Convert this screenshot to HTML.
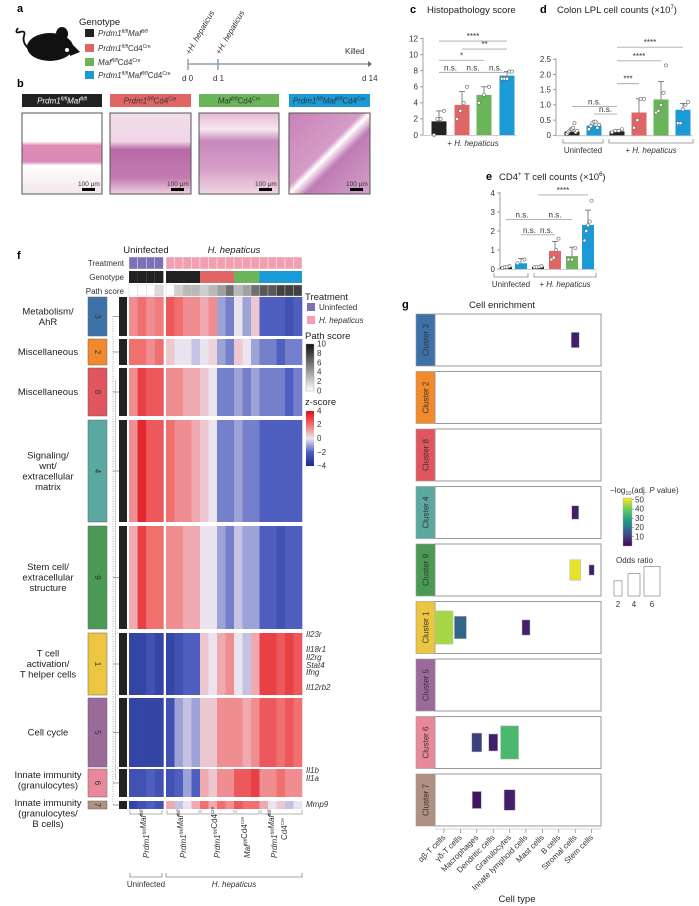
<!DOCTYPE html>
<html><head><meta charset="utf-8">
<style>
body{margin:0;background:#fff}
svg{display:block;font-family:"Liberation Sans",sans-serif}
.t{font-size:8px;fill:#333}
.ttl{font-size:9.5px;fill:#222}
.lab{font-size:11px;font-weight:bold;fill:#000}
.it{font-style:italic}
</style></head>
<body>
<svg id="fig" width="699" height="906" viewBox="0 0 699 906" xmlns="http://www.w3.org/2000/svg">
<defs>
 <linearGradient id="gz" x1="0" y1="0" x2="0" y2="1">
  <stop offset="0" stop-color="#e0101a"/><stop offset="0.25" stop-color="#f07070"/><stop offset="0.5" stop-color="#ebe4ee"/><stop offset="0.75" stop-color="#4e5fc0"/><stop offset="1" stop-color="#1a2a8a"/>
 </linearGradient>
 <linearGradient id="gp" x1="0" y1="0" x2="0" y2="1"><stop offset="0" stop-color="#111"/><stop offset="1" stop-color="#fff"/></linearGradient>
 <linearGradient id="gv" x1="0" y1="1" x2="0" y2="0">
  <stop offset="0" stop-color="#440154"/><stop offset="0.25" stop-color="#3b528b"/><stop offset="0.5" stop-color="#21918c"/><stop offset="0.75" stop-color="#5ec962"/><stop offset="1" stop-color="#fde725"/>
 </linearGradient>
 <linearGradient id="h1" x1="0" y1="0" x2="0" y2="1"><stop offset="0" stop-color="#fff"/><stop offset="0.35" stop-color="#fff"/><stop offset="0.4" stop-color="#e08cb4"/><stop offset="0.6" stop-color="#d88ab8"/><stop offset="0.65" stop-color="#fff"/><stop offset="1" stop-color="#f4e6ee"/></linearGradient>
 <linearGradient id="h2" x1="0" y1="0" x2="0" y2="1"><stop offset="0" stop-color="#f2dde8"/><stop offset="0.35" stop-color="#efd6e4"/><stop offset="0.45" stop-color="#b86aa6"/><stop offset="0.8" stop-color="#c27cb0"/><stop offset="1" stop-color="#f0d0e0"/></linearGradient>
 <linearGradient id="h3" x1="0" y1="0" x2="0" y2="1"><stop offset="0" stop-color="#e8b8d4"/><stop offset="0.2" stop-color="#f6e8f0"/><stop offset="0.35" stop-color="#c888bc"/><stop offset="0.7" stop-color="#d8a0c8"/><stop offset="1" stop-color="#f0d6e4"/></linearGradient>
 <linearGradient id="h4" x1="0" y1="0" x2="1" y2="1"><stop offset="0" stop-color="#c882b8"/><stop offset="0.45" stop-color="#d69cc6"/><stop offset="0.5" stop-color="#fff"/><stop offset="0.6" stop-color="#c07cb4"/><stop offset="1" stop-color="#d4a0c8"/></linearGradient>
</defs>

<!-- panel a -->
<text class="lab" x="17" y="12">a</text>
<g>
 <ellipse cx="50" cy="47" rx="23" ry="14" fill="#111"/>
 <ellipse cx="62" cy="34" rx="6" ry="7" fill="#111"/>
 <path d="M68 40 L80 52 L70 56 Z" fill="#111"/>
 <circle cx="67" cy="50" r="2" fill="#fff"/>
 <path d="M28 48 Q22 42 24 36 Q26 30 20 32 Q14 34 18 28" stroke="#111" stroke-width="1.8" fill="none"/>
</g>
<text class="ttl" x="79" y="25">Genotype</text>
<g>
 <rect x="85" y="29" width="9" height="8" fill="#222"/><text class="t it" x="98" y="36">Prdm1<tspan font-size="5" dy="-3">fl/fl</tspan><tspan dy="3">Maf</tspan><tspan font-size="5" dy="-3">fl/fl</tspan></text>
 <rect x="85" y="44" width="9" height="8" fill="#e06666"/><text class="t it" x="98" y="51">Prdm1<tspan font-size="5" dy="-3">fl/fl</tspan><tspan dy="3" font-style="normal">Cd4</tspan><tspan font-size="5" dy="-3" font-style="normal">Cre</tspan></text>
 <rect x="85" y="58" width="9" height="8" fill="#6ab45a"/><text class="t it" x="98" y="65">Maf<tspan font-size="5" dy="-3">fl/fl</tspan><tspan dy="3" font-style="normal">Cd4</tspan><tspan font-size="5" dy="-3" font-style="normal">Cre</tspan></text>
 <rect x="85" y="71" width="9" height="8" fill="#1a9ad6"/><text class="t it" x="98" y="78">Prdm1<tspan font-size="5" dy="-3">fl/fl</tspan><tspan dy="3">Maf</tspan><tspan font-size="5" dy="-3">fl/fl</tspan><tspan dy="3" font-style="normal">Cd4</tspan><tspan font-size="5" dy="-3" font-style="normal">Cre</tspan></text>
</g>
<g>
 <line x1="188" y1="64" x2="368" y2="64" stroke="#5a6f8a" stroke-width="1"/>
 <path d="M368 61 L372 64 L368 67" fill="#5a6f8a"/>
 <line x1="188" y1="59" x2="188" y2="70" stroke="#8aa0b8" stroke-width="1.5"/>
 <line x1="218" y1="59" x2="218" y2="70" stroke="#8aa0b8" stroke-width="1.5"/>
 <text class="t" x="182" y="81">d 0</text><text class="t" x="213" y="81">d 1</text><text class="t" x="362" y="81">d 14</text>
 <text class="t" x="345" y="54">Killed</text>
 <text class="t" transform="translate(190,55) rotate(-60)">+<tspan class="it">H. hepaticus</tspan></text>
 <text class="t" transform="translate(220,55) rotate(-60)">+<tspan class="it">H. hepaticus</tspan></text>
</g>

<!-- panel b -->
<text class="lab" x="17" y="87">b</text>
<g>
 <rect x="22" y="94" width="80" height="13" fill="#222"/><text class="t it" x="62" y="103.5" text-anchor="middle" style="fill:#fff">Prdm1<tspan font-size="5" dy="-3">fl/fl</tspan><tspan dy="3">Maf</tspan><tspan font-size="5" dy="-3">fl/fl</tspan></text>
 <rect x="110" y="94" width="81" height="13" fill="#e06666"/><text class="t it" x="150" y="103.5" text-anchor="middle">Prdm1<tspan font-size="5" dy="-3">fl/fl</tspan><tspan dy="3" font-style="normal">Cd4</tspan><tspan font-size="5" dy="-3" font-style="normal">Cre</tspan></text>
 <rect x="199" y="94" width="80" height="13" fill="#6ab45a"/><text class="t it" x="239" y="103.5" text-anchor="middle">Maf<tspan font-size="5" dy="-3">fl/fl</tspan><tspan dy="3" font-style="normal">Cd4</tspan><tspan font-size="5" dy="-3" font-style="normal">Cre</tspan></text>
 <rect x="289" y="94" width="81" height="13" fill="#1a9ad6"/><text class="t it" x="329" y="103.5" text-anchor="middle">Prdm1<tspan font-size="5" dy="-3">fl/fl</tspan><tspan dy="3">Maf</tspan><tspan font-size="5" dy="-3">fl/fl</tspan><tspan dy="3" font-style="normal">Cd4</tspan><tspan font-size="5" dy="-3" font-style="normal">Cre</tspan></text>
 <rect x="22" y="113" width="80" height="81" fill="url(#h1)" stroke="#555"/>
 <rect x="110" y="113" width="81" height="81" fill="url(#h2)" stroke="#555"/>
 <rect x="199" y="113" width="80" height="81" fill="url(#h3)" stroke="#555"/>
 <rect x="289" y="113" width="81" height="81" fill="url(#h4)" stroke="#555"/>
 <g class="t" font-size="6.5">
 <text x="78" y="186" font-size="6.5">100 µm</text><rect x="82" y="188" width="13" height="3" fill="#000"/>
 <text x="167" y="186" font-size="6.5">100 µm</text><rect x="171" y="188" width="13" height="3" fill="#000"/>
 <text x="255" y="186" font-size="6.5">100 µm</text><rect x="259" y="188" width="13" height="3" fill="#000"/>
 <text x="346" y="186" font-size="6.5">100 µm</text><rect x="350" y="188" width="13" height="3" fill="#000"/>
 </g>
</g>

<!-- titles c d e -->
<text class="lab" x="410" y="13">c</text>
<text class="ttl" x="427" y="13">Histopathology score</text>
<text class="lab" x="540" y="13">d</text>
<text class="ttl" x="557" y="13">Colon LPL cell  counts (×10<tspan font-size="6" dy="-4">7</tspan><tspan dy="4">)</tspan></text>
<text class="lab" x="486" y="180">e</text>
<text class="ttl" x="499" y="180">CD4<tspan font-size="6" dy="-4">+</tspan><tspan dy="4"> T cell counts (×10</tspan><tspan font-size="6" dy="-4">6</tspan><tspan dy="4">)</tspan></text>
<g id="barC"></g>
<g id="barD"></g>
<g id="barE"></g>

<!-- panel f -->
<text class="lab" x="17" y="259">f</text>
<text class="ttl" x="146" y="253" text-anchor="middle">Uninfected</text>
<text class="ttl it" x="234" y="253" text-anchor="middle">H. hepaticus</text>
<g id="heat"></g>

<!-- panel g -->
<text class="lab" x="402" y="308">g</text>
<text class="ttl" x="469" y="308">Cell enrichment</text>
<g id="enrich"></g>
</svg>

<script>
// ---------- panel c data ----------
const cValues = [1.7, 3.75, 5.0, 7.4];
const cErr = [3.0, 5.4, 6.0, 7.9];
const cDots = [[0,2,2,3],[2,3,4,6],[4,5,6],[7,7,7,7.9,7.9]];
const cTicks = [0,2,4,6,8,10,12];
const cSig = [["****",0,3,11.7],["**",1,3,10.7],["*",0,2,9.3],["n.s.",0,1,7.8],["n.s.",1,2,7.8],["n.s.",2,3,7.8]];
// ---------- panel d data ----------
const dValues = [0.12, 0.32, 0.13, 0.75, 1.18, 0.84];
const dErr = [0.2, 0.4, 0.18, 1.2, 1.77, 1.05];
const dDots = [[0.05,0.1,0.15,0.2,0.2,0.25,0.4,0.1,0.15],[0.2,0.3,0.4,0.45,0.45,0.25,0.35],[0.1,0.15,0.15,0.2],[0.25,0.5,1.2,1.2],[0.75,0.8,1.0,1.4,2.3],[0.4,0.4,0.85,1.0,1.1]];
const dTicks = [0,0.5,1.0,1.5,2.0,2.5];
const dTickLabels = ["0","0.5","1.0","1.5","2.0","2.5"];
const dSig = [["****",2,5,2.9],["****",2,4,2.45],["***",2,3,1.7],["n.s.",0,2,0.95],["n.s.",1,2,0.7]];
// ---------- panel e data ----------
const eValues = [0.1, 0.3, 0.12, 0.95, 0.68, 2.32];
const eErr = [0.15, 0.55, 0.15, 1.45, 1.15, 3.1];
const eDots = [[0.05,0.1,0.1,0.15],[0.3,0.5],[0.1,0.1,0.12,0.15],[0.5,0.6,1.0,1.6],[0.5,0.5,1.1],[1.5,2.0,2.3,2.5,3.6]];
const eTicks = [0,1,2,3,4];
const eSig = [["****",2,5,3.9],["n.s.",0,2,2.6],["n.s.",2,4,2.6],["n.s.",1,2,1.8],["n.s.",2,3,1.8]];
const barColors6 = ["#222","#1a9ad6","#222","#e06666","#6ab45a","#1a9ad6"];
const barColors4 = ["#222","#e06666","#6ab45a","#1a9ad6"];

// ---------- heatmap data ----------
const clusterIds = ["3","2","8","4","9","1","5","6","7"];
const clusterNames = [["Metabolism/","AhR"],["Miscellaneous"],["Miscellaneous"],["Signaling/","wnt/","extracellular","matrix"],["Stem cell/","extracellular","structure"],["T cell","activation/","T helper cells"],["Cell cycle"],["Innate immunity","(granulocytes)"],["Innate immunity","(granulocytes/","B cells)"]];
const clusterColors = ["#3d72a8","#f08a2c","#e05560","#5aa8a0","#4a9a55","#ecc640","#9a6a9a","#e8889a","#b09080"];
const zMeans = [
 [1.5,2,1.5,1.8, 2.5,2,1.5,1.5, 1,1.5,-1,-1.5, 0,-1,0.5, -2,-2,-2,-2.5,-2],
 [2,2,1.5,2, 0.5,0,0,-0.5, 0,0.3,-1,-1.5, 0.5,0,-1, -1.5,-1.5,-2,-1.5,-1.5],
 [1.5,3,2.5,2.5, 1.5,1.5,1,1, 0.5,0,-1.5,-1.5, -1,-1.5,-1, -1.5,-1.5,-1.5,-2,-1.5],
 [1.5,3.5,2.5,2.5, 2,1.5,1.5,1, 0.5,0,-1.5,-1.5, -1,-1.5,-1.5, -2,-2,-2,-2,-2],
 [1,3,2,2, 1.5,1.5,1,1, 0,0,-1,-1.5, -0.5,-1,-1, -2,-2,-2.5,-2,-2],
 [-3,-3,-2.5,-3, -3,-2.5,-2,-2, 0.5,0,1,1.5, 0,-0.5,1, 3,3,2.5,3,2.5],
 [-3,-3,-3,-3, -2.5,-1,-0.5,-1, 0.5,0.5,1.5,1.5, 1.5,1,1.5, 2.5,2.5,2,2.5,2],
 [-2.5,-2.5,-2,-2.5, -2.5,-2,-1,-2, 1,0.5,1.5,1.5, 2.5,2.5,3, 1.5,1.5,2,1.5,1.5],
 [-3,-2.5,-2,-2.5, 1,-0.5,0,1, 2,1,2,1.5, 2.5,2,2, 1,0,0.5,-0.5,0]
];
const treatment = ["U","U","U","U","H","H","H","H","H","H","H","H","H","H","H","H","H","H","H","H"];
const genotype = ["B","B","B","B","B","B","B","B","R","R","R","R","G","G","G","L","L","L","L","L"];
const pathScore = [0,0,0,1.5, 0,2,3,3, 2,3,4,6, 3,4,6, 7,7,8,8,8];
const geneLabels = ["Il23r","Il18r1","Il2rg","Stat4","Ifng","Il12rb2","Il1b","Il1a","Mmp9"];

// ---------- enrichment data ----------
const cellTypes = ["αβ-T cells","γδ-T cells","Macrophages","Dendritic cells","Granulocytes","Innate lymphoid cells","Mast cells","B cells","Stromal cells","Stem cells"];
const enrichClusters = ["3","2","8","4","9","1","5","6","7"];
const enrichCluster = ["3","4","9","9","1","1","1","6","6","6","7","7"];
const enrichCell = [8,8,8,9,0,1,5,2,3,4,2,4];
const enrichOdds = [2,1.5,3.5,0.6,7,4,2,3,2.5,7,2.5,3.5];
const enrichLogP = [5,5,50,5,45,17,5,10,5,35,3,5];

// ---------- helpers ----------
const NS="http://www.w3.org/2000/svg";
function mk(parent, tag, attrs, text){
 const e=document.createElementNS(NS,tag);
 for(const k in attrs) e.setAttribute(k,attrs[k]);
 if(text!==undefined) e.textContent=text;
 parent.appendChild(e); return e;
}
function lerpHex(a,b,t){
 const pa=[1,3,5].map(i=>parseInt(a.substr(i,2),16)), pb=[1,3,5].map(i=>parseInt(b.substr(i,2),16));
 return "rgb("+pa.map((v,i)=>Math.round(v+(pb[i]-v)*t)).join(",")+")";
}
function ramp(stops, t){
 t=Math.max(0,Math.min(1,t));
 const n=stops.length-1, i=Math.min(n-1,Math.floor(t*n));
 return lerpHex(stops[i],stops[i+1],t*n-i);
}
const zStops=["#1a2a8a","#4e5fc0","#ebe4ee","#f07070","#e0101a"];
const vStops=["#440154","#3b528b","#21918c","#5ec962","#fde725"];
function zColor(z){return ramp(zStops,(z+4)/8);}

// ---------- bar charts ----------
function barChart(g, cfg){
 const y=v=>cfg.y0-(v-cfg.vmin)*cfg.ppu;
 const x=i=>cfg.xs[i];
 let e=mk(g,"line",{x1:cfg.axisX,x2:cfg.axisX,y1:y(cfg.ticks[cfg.ticks.length-1])-1,y2:y(0),stroke:"#888","stroke-width":0.8});
 
 
 cfg.ticks.forEach((t,i)=>{
  mk(g,"line",{x1:cfg.axisX-3,x2:cfg.axisX,y1:y(t),y2:y(t),stroke:"#888","stroke-width":0.8});
  const tl=mk(g,"text",{x:cfg.axisX-5,y:y(t)+2.8,"text-anchor":"end",class:"t"},cfg.tickLabels?cfg.tickLabels[i]:String(t));
  
  
 });
 cfg.values.forEach((v,i)=>{
  const cx=x(i), top=y(cfg.err[i]);
  mk(g,"line",{x1:cx,x2:cx,y1:top,y2:y(v),stroke:"#666","stroke-width":0.8});
  mk(g,"line",{x1:cx-3,x2:cx+3,y1:top,y2:top,stroke:"#666","stroke-width":0.8});
  const b=mk(g,"rect",{x:cx-cfg.bw/2,y:y(v),width:cfg.bw,height:y(0)-y(v),fill:cfg.colors[i]});
  
  
  cfg.dots[i].forEach((d,j)=>{
   const n=cfg.dots[i].length, off=n>1?(j/(n-1)-0.5)*(cfg.bw-5):0;
   const c=mk(g,"circle",{cx:cx+off,cy:y(d),r:1.6,fill:"#fff",stroke:"#666","stroke-width":0.6});
   
   
  });
 });
 cfg.sig.forEach(s=>{
  const yy=y(s[3]);
  mk(g,"line",{x1:x(s[1]),x2:x(s[2]),y1:yy,y2:yy,stroke:"#aaa","stroke-width":0.9});
  const st=mk(g,"text",{x:(x(s[1])+x(s[2]))/2,y:yy-2,"text-anchor":"middle",class:"t","font-size":s[0]=="n.s."?7:8},s[0]);
  
  
 });
 mk(g,"line",{x1:cfg.axisX,x2:x(cfg.values.length-1)+cfg.bw/2+2,y1:y(0)+0.5,y2:y(0)+0.5,stroke:"#999","stroke-width":0.6});
}
function groupBrackets(g, yb, groups){
 groups.forEach(gr=>{
  mk(g,"path",{d:`M${gr[0]} ${yb-4} V${yb} H${gr[1]} V${yb-4}`,stroke:"#888",fill:"none","stroke-width":0.8});
  const t=mk(g,"text",{x:(gr[0]+gr[1])/2,y:yb+10,"text-anchor":"middle",class:"t"+(gr[3]?" it":"")},gr[2]);
  
  
 });
}
const gC=document.getElementById("barC");
barChart(gC,{y0:135,vmin:0,ppu:8.03,axisX:423,xs:[439,462,484,507],bw:15,values:cValues,err:cErr,dots:cDots,ticks:cTicks,sig:cSig,colors:barColors4});
let hh=mk(gC,"text",{x:473,y:146,"text-anchor":"middle",class:"t"},"+ ");
mk(hh,"tspan",{class:"it"},"H. hepaticus");
const gD=document.getElementById("barD");
barChart(gD,{y0:135.3,vmin:0,ppu:30.4,axisX:556,xs:[572,594,617,639,661,683],bw:15,values:dValues,err:dErr,dots:dDots,ticks:dTicks,tickLabels:dTickLabels,sig:dSig,colors:barColors6});
groupBrackets(gD,143,[[563,603,"Uninfected"],[609,693,"+ H. hepaticus",1]]);
const gE=document.getElementById("barE");
barChart(gE,{y0:269,vmin:0,ppu:19,axisX:500,xs:[506,521,538,555,572,588],bw:12,values:eValues,err:eErr,dots:eDots,ticks:eTicks,sig:eSig,colors:barColors6});
groupBrackets(gE,277,[[494,528,"Uninfected"],[534,596,"+ H. hepaticus",1]]);

// ---------- heatmap ----------
const H=document.getElementById("heat");
const colX=i=> i<4 ? 129+i*8.6 : 166+(i-4)*8.5;
const colW=i=> i<4 ? 8.6 : 8.5;
const clusterY=[[297,336],[339,365],[368,416],[420,522],[526,629],[633,695],[698,767],[769,797],[801,809]];
const genoColor={B:"#222",R:"#e06666",G:"#6ab45a",L:"#1a9ad6"};
[["Treatment",257],["Genotype",271],["Path score",285]].forEach(r=>{
 const t=mk(H,"text",{x:124,y:r[1]+9,"text-anchor":"end",class:"t"},r[0]);
 
 
});
treatment.forEach((tr,i)=>{
 mk(H,"rect",{x:colX(i),y:257,width:colW(i),height:12,fill:tr=="U"?"#7b72b8":"#f0a0b0",stroke:"#fff","stroke-width":0.4});
 mk(H,"rect",{x:colX(i),y:271,width:colW(i),height:12,fill:genoColor[genotype[i]]});
 mk(H,"rect",{x:colX(i),y:285,width:colW(i),height:11,fill:ramp(["#ffffff","#111111"],pathScore[i]/10),stroke:"#ccc","stroke-width":0.4});
});
clusterIds.forEach((cid,k)=>{
 const [y1,y2]=clusterY[k];
 zMeans[k].forEach((z,i)=>{
  const c=mk(H,"rect",{x:colX(i),y:y1,width:colW(i)+0.3,height:y2-y1,fill:zColor(z)});
  
  
 });
 const b=mk(H,"rect",{x:88,y:y1,width:19,height:y2-y1,fill:clusterColors[k],stroke:"#666","stroke-width":0.5});
 
 
 mk(H,"text",{class:"t",transform:`translate(${95},${(y1+y2)/2}) rotate(90)`,"text-anchor":"middle","font-size":(y2-y1)>10?8:7},cid);
 mk(H,"rect",{x:119,y:y1,width:8,height:y2-y1,fill:"#222"});
 mk(H,"line",{x1:113,x2:119,y1:(y1+y2)/2,y2:(y1+y2)/2,stroke:"#666","stroke-width":0.6});
 const names=clusterNames[k], lh=10.5;
 let cy=(y1+y2)/2-(names.length-1)*lh/2+3;
 if(k==8) cy=806;
 if(k==7) cy=778;
 const nt=mk(H,"text",{class:"ttl","text-anchor":"middle","font-size":9},"");
 
 
 names.forEach((n,j)=>mk(nt,"tspan",{x:48,y:cy+j*lh},n));
});
mk(H,"line",{x1:113,x2:113,y1:316,y2:805,stroke:"#777","stroke-width":0.6,"stroke-dasharray":"1,1.5"});
mk(H,"line",{x1:115.5,x2:115.5,y1:380,y2:780,stroke:"#999","stroke-width":0.5});
const geneY=[637,652,660,668,675,690,773,781,807];
geneLabels.forEach((gname,i)=>{
 const t=mk(H,"text",{x:306,y:geneY[i],class:"t it"},gname);
 
 
});
mk(H,"text",{x:305,y:300,class:"ttl"},"Treatment");
mk(H,"rect",{x:307,y:303,width:8,height:8,fill:"#7b72b8"});
mk(H,"text",{x:319,y:310,class:"t"},"Uninfected");
mk(H,"rect",{x:307,y:316,width:8,height:8,fill:"#f0a0b0"});
mk(H,"text",{x:319,y:323,class:"t it"},"H. hepaticus");
mk(H,"text",{x:305,y:339,class:"ttl"},"Path score");
mk(H,"rect",{x:306,y:344,width:8,height:47,fill:"url(#gp)",stroke:"#999","stroke-width":0.4});
[10,8,6,4,2,0].forEach(v=>{const yy=391-v*4.7;mk(H,"text",{x:317,y:yy+2.5,class:"t","font-size":7},String(v));});
mk(H,"text",{x:305,y:405,class:"ttl"},"z-score");
mk(H,"rect",{x:306,y:411,width:8,height:55,fill:"url(#gz)"});
[4,2,0,-2,-4].forEach(v=>{const yy=438.5-v*6.9;mk(H,"text",{x:317,y:yy+2.5,class:"t","font-size":7},v<0?"−"+(-v):String(v));});
const gGroups=[[130,162,146,["Prdm1|fl/fl|Maf|fl/fl"]],[167,199,183,["Prdm1|fl/fl|Maf|fl/fl"]],[201,234,217,["Prdm1|fl/fl|Cd4|Cre"]],[236,259,247,["Maf|fl/fl|Cd4|Cre"]],[261,302,281,["Prdm1|fl/fl|Maf|fl/fl","Cd4|Cre"]]];
gGroups.forEach(gr=>{
 mk(H,"path",{d:`M${gr[0]} 810 V814 H${gr[1]} V810`,stroke:"#999",fill:"none","stroke-width":0.7});
 gr[3].forEach((line,li)=>{
  const parts=line.split("|");
  const xx=gr[2]+(gr[3].length>1?(li==0?-4:6):3);
  const t=mk(H,"text",{class:"t it",transform:`translate(${xx},${parts.length>2?858:840}) rotate(-90)`,"font-size":7.5},"");
  
  
  for(let p=0;p<parts.length;p+=2){
   mk(t,"tspan",{"font-style":parts[p]=="Cd4"?"normal":"italic"},parts[p]);
   mk(t,"tspan",{"font-size":4.5,dy:-3,"font-style":"italic"},parts[p+1]);
   mk(t,"tspan",{dy:3},"");
  }
 });
});
groupBrackets(H,877,[[130,162,"Uninfected"],[166,302,"H. hepaticus",1]]);

// ---------- enrichment ----------
const E=document.getElementById("enrich");
const catX=i=>444+i*16.4;
const boxY=k=>314+k*57.5;
const oddW=o=>4+2*o, oddH=o=>8+3.6*o;
enrichClusters.forEach((cid,k)=>{
 const y0=boxY(k);
 const bx=mk(E,"rect",{x:435,y:y0,width:166,height:52,fill:"#fff",stroke:"#999","stroke-width":1});
 
 
 mk(E,"rect",{x:416,y:y0,width:19,height:52,fill:clusterColors[clusterIds.indexOf(cid)],stroke:"#999","stroke-width":0.6});
 mk(E,"text",{class:"t",transform:`translate(${428.5},${y0+26}) rotate(-90)`,"text-anchor":"middle","font-size":8.5},"Cluster "+cid);
});
enrichCluster.forEach((cid,i)=>{
 const k=enrichClusters.indexOf(cid), o=enrichOdds[i], w=oddW(o), h=oddH(o);
 const cy=boxY(k)+26;
 const r=mk(E,"rect",{x:catX(enrichCell[i])-w/2,y:cy-h/2,width:w,height:h,fill:ramp(vStops,enrichLogP[i]/52),stroke:"#bbb","stroke-width":0.5});
 
 
});
cellTypes.forEach((c,i)=>{
 mk(E,"line",{x1:catX(i),x2:catX(i),y1:829,y2:833,stroke:"#888","stroke-width":0.7});
 const t=mk(E,"text",{class:"t",transform:`translate(${catX(i)+2},${838}) rotate(-45)`,"text-anchor":"end","font-size":7.5},c);
 
 
});
mk(E,"line",{x1:435,x2:601,y1:829,y2:829,stroke:"#aaa","stroke-width":0.6});
let ct=mk(E,"text",{x:517,y:902,class:"ttl","text-anchor":"middle","font-size":8.5},"Cell type");


let lt=mk(E,"text",{x:610,y:493,class:"t","font-size":8},"−log");
mk(lt,"tspan",{"font-size":5.5,dy:2},"10");
mk(lt,"tspan",{dy:-2},"(adj. ");
mk(lt,"tspan",{class:"it"},"P");
mk(lt,"tspan",{}," value)");
mk(E,"rect",{x:623,y:498,width:9,height:48,fill:"url(#gv)",stroke:"#aaa","stroke-width":0.4});
[10,20,30,40,50].forEach(v=>{const yy=546-v*0.925;mk(E,"line",{x1:632,x2:634,y1:yy,y2:yy,stroke:"#666","stroke-width":0.5});mk(E,"text",{x:635,y:yy+2.5,class:"t","font-size":7},String(v));});
mk(E,"text",{x:616,y:563,class:"t","font-size":8},"Odds ratio");
[2,4,6].forEach((o,i)=>{
 const xs=[618,634,652][i], w=oddW(o), h=oddH(o);
 mk(E,"rect",{x:xs-w/2,y:596-h,width:w,height:h,fill:"#fff",stroke:"#888","stroke-width":0.7});
 mk(E,"text",{x:xs,y:607,class:"t","text-anchor":"middle","font-size":7.5},String(o));
});
</script>
</body></html>
